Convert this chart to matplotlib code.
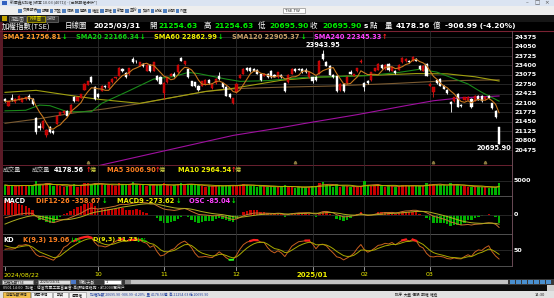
import numpy as np, pandas as pd
import matplotlib; matplotlib.use("Agg")
import matplotlib.pyplot as plt
from matplotlib.patches import Rectangle
from matplotlib import transforms

W, H = 554, 298
CJK = ["Noto Sans CJK TC", "DejaVu Sans"]

# ---- TAIEX daily candles 2024/08/22 .. 2025/03/31 (144 sessions) ----
OPEN = [22240, 22010, 22275, 22125, 22220, 22150, 22230, 22356, 22241, 21583,   # 0
        21318, 21237, 21007, 21260, 21122, 21376, 21699, 21756, 21837, 21779,   # 10
        22298, 22183, 22275, 22552, 22736, 22990, 22667, 22413, 22529, 22702,   # 20
        22610, 22817, 22960, 23048, 23290, 23130, 23100, 23624, 23567, 23394,   # 30
        23451, 23221, 23428, 23221, 23020, 22990, 22437, 22817, 23048, 23105,   # 40
        23163, 23659, 23451, 23278, 22852, 22817, 22702, 22702, 22760, 22900,   # 50
        22620, 22783, 23048, 22783, 22667, 22413, 22090, 22471, 22967, 23105,   # 60
        23313, 23313, 23278, 23244, 23105, 23048, 23105, 23221, 23082, 22990,   # 70
        23082, 22783, 22817, 23105, 23278, 23278, 23278, 23250, 22990, 22990,   # 80
        22990, 23105, 23797, 23509, 23394, 23082, 23048, 22552, 22759, 22783,   # 90
        23163, 23048, 23198, 23509, 22783, 22852, 22898, 23221, 23244, 23428,   # 100
        23278, 23451, 23221, 23221, 23244, 23509, 23544, 23567, 23567, 23624,   # 110
        23394, 23221, 23451, 22702, 22471, 22898, 22932, 22702, 22552, 22125,   # 120
        22160, 22413, 22045, 22206, 22206, 22241, 22183, 22356, 22356, 22241,   # 130
        22356, 22091, 21837, 21254.63]                                          # 140
HIGH = [22290, 22180, 22410, 22260, 22380, 22290, 22320, 22400, 22260, 21620,
        21400, 21500, 21200, 21300, 21180, 21700, 21800, 21860, 21870, 22060,
        22330, 22320, 22430, 22780, 22880, 23048, 22700, 22440, 22720, 22740,
        22830, 22960, 23010, 23360, 23330, 23160, 23330, 23680, 23600, 23530,
        23480, 23440, 23460, 23530, 23060, 23020, 22820, 23000, 23130, 23180,
        23450, 23700, 23560, 23300, 22880, 22840, 22720, 22870, 22920, 22940,
        22780, 22950, 23163, 22800, 22690, 22440, 22280, 22780, 23100, 23300,
        23350, 23340, 23300, 23270, 23120, 23130, 23130, 23240, 23110, 23180,
        23100, 22800, 23100, 23300, 23310, 23300, 23300, 23300, 23180, 23010,
        23020, 23580, 23943.95, 23540, 23420, 23110, 23070, 22780, 22790, 23030,
        23244, 23120, 23330, 23624, 22830, 22900, 23180, 23330, 23470, 23460,
        23440, 23480, 23350, 23240, 23440, 23680, 23650, 23600, 23740, 23650,
        23420, 23410, 23470, 22790, 22660, 22930, 22960, 22730, 22580, 22180,
        22320, 22440, 22070, 22320, 22340, 22260, 22370, 22380, 22380, 22340,
        22380, 22110, 21850, 21254.63]
LOW = [22140, 21990, 22180, 22100, 22200, 22120, 22200, 22220, 22050, 21020,
       21180, 21200, 20940, 21060, 21030, 21360, 21680, 21730, 21650, 21760,
       22140, 22170, 22260, 22540, 22720, 22800, 22200, 22280, 22500, 22620,
       22590, 22800, 22930, 23030, 23180, 22970, 23080, 23480, 23500, 23380,
       23360, 23200, 23190, 23200, 22860, 22750, 22240, 22800, 23030, 23010,
       23140, 23540, 23430, 22980, 22680, 22660, 22530, 22680, 22740, 22760,
       22590, 22760, 22910, 22620, 22330, 22270, 22060, 22450, 22950, 23090,
       23220, 23180, 23200, 23090, 22880, 23030, 22970, 22970, 22990, 22970,
       22970, 22480, 22800, 23090, 23180, 23230, 23140, 23150, 22970, 22783,
       22880, 23090, 23600, 23370, 23060, 22970, 22480, 22530, 22490, 22760,
       23090, 23020, 23180, 23480, 22529, 22760, 22880, 23200, 23230, 23290,
       23260, 23220, 23200, 23110, 23230, 23490, 23520, 23490, 23550, 23550,
       23260, 23200, 23030, 22680, 22298, 22760, 22680, 22570, 22420, 21779,
       22140, 21950, 21980, 22190, 22190, 21930, 22160, 22190, 22140, 22220,
       22260, 21910, 21590, 20695.90]
CLOSE = [22160, 22160, 22205, 22240, 22356, 22265, 22298, 22241, 22068, 21088,
         21226, 21468, 21168, 21088, 21053, 21664, 21779, 21837, 21664, 22045,
         22160, 22298, 22413, 22759, 22852, 22817, 22241, 22298, 22702, 22644,
         22817, 22932, 22990, 23310, 23220, 22990, 23300, 23509, 23544, 23509,
         23394, 23428, 23198, 23509, 22898, 22759, 22783, 22990, 23105, 23048,
         23428, 23567, 23544, 22990, 22702, 22679, 22552, 22852, 22900, 22780,
         22759, 22932, 22932, 22644, 22356, 22298, 22262, 22759, 23082, 23278,
         23244, 23198, 23221, 23105, 22898, 23105, 22990, 22990, 23013, 23163,
         22990, 22506, 23082, 23278, 23198, 23244, 23163, 23190, 23160, 22875,
         22898, 23543, 23624, 23394, 23082, 22990, 22506, 22759, 22506, 23013,
         23105, 23105, 23313, 23544, 22667, 22783, 23163, 23313, 23451, 23313,
         23428, 23244, 23336, 23129, 23428, 23659, 23624, 23509, 23705, 23567,
         23278, 23394, 23048, 22759, 22644, 22783, 22702, 22586, 22437, 22068,
         22298, 21975, 21999, 22298, 22321, 21952, 22356, 22206, 22160, 22321,
         22275, 21929, 21603, 20695.90]
# trading value, 億
VOLUME = [3550, 3250, 3400, 3150, 3300, 3700, 3450,
          3200, 3350, 5100, 4100, 3600, 4300, 3500, 3300,
          3600, 3200, 2900, 3300, 3700, 4000,
          3000, 3500, 4200, 4400, 4100, 4300,
          3600, 4000, 3500, 3700, 3400, 3300,
          4300, 3900, 3700, 3800, 4500, 3700,
          3500, 3400, 3300, 3600, 3800, 3700, 3500,
          4200, 3400, 3300, 3500, 4100, 4200, 3600,
          3900, 3700, 3500, 3400, 3100,
          3000, 3100, 3200, 3300, 3600, 3100, 3400, 3700, 3500,
          3300, 3700, 4000, 3500, 3300, 3100, 3000, 3200, 3100,
          3000, 2900, 2800, 3000, 3100, 3500, 2900, 2700, 2600, 2800, 2700, 2900, 3000,
          3200, 3300, 4300, 4500, 3400, 3500, 3000, 3800, 3000, 3100, 3200, 2900, 2800, 3000, 3100,
          4900, 3700, 3300, 3400, 3500, 3200, 3000, 3100, 3200, 3000, 3300, 3600,
          3400, 3200, 3500, 3100, 3300, 3100, 4400,
          3900, 4000, 3500, 3600, 3400, 3300, 4200, 3400, 3600, 3200, 3100,
          3000, 2900, 2800, 3000, 2900, 2760, 2600, 2700, 2800, 4178.56]
for arr in (OPEN, HIGH, LOW, CLOSE, VOLUME):
    assert len(arr) == 144, len(arr)

# long moving averages, read at a few points along each line
SMA20_IDX = [0, 6, 10, 13, 18, 25, 28, 36, 43, 49, 53, 56, 64, 68, 76, 87, 95, 105, 114, 120, 125, 134, 138, 143]
SMA20_VAL = [21830, 21850, 22030, 22010, 21800, 21800, 22090, 22530, 22930, 23020, 23160, 23120, 22930,
             22850, 22875, 22990, 23010, 23050, 23160, 23270, 23170, 22760, 22470, 22166]
SMA60_IDX = [0, 9, 18, 27, 39, 46, 58, 66, 80, 91, 106, 119, 128, 136, 143]
SMA60_VAL = [22470, 22540, 22380, 22230, 22090, 22240, 22500, 22610, 22890, 23000, 23060, 23120, 23110, 23010, 22863]
SMA120_IDX = [0, 10, 20, 29, 39, 46, 58, 67, 80, 95, 113, 128, 143]
SMA120_VAL = [21400, 21560, 21760, 21900, 22080, 22240, 22500, 22600, 22650, 22690, 22780, 22870, 22905]
SMA240_IDX = [20, 28, 47, 66, 80, 87, 102, 116, 124, 132, 143]
SMA240_VAL = [19740, 19960, 20470, 20980, 21250, 21400, 21700, 22010, 22180, 22280, 22345]

# indicator state on the day before the first candle (estimated from the panels)
EMA12_INIT, EMA26_INIT, SIG_INIT = 21830, 21950, -320
K_INIT, D_INIT = 72, 70

PRICE_TICKS = [24375, 24050, 23725, 23400, 23075, 22750, 22425, 22100, 21775, 21450, 21125, 20800, 20475]
DATE_IDX = [0, 27, 46, 67, 89, 104, 123]
DATE_LBL = ["2024/08/22", "10", "11", "12", "2025/01", "02", "03"]
EVENT_IDX = [24, 84, 124, 139]

o, h, l, c = (np.array(a, float) for a in (OPEN, HIGH, LOW, CLOSE))
vol = np.array(VOLUME, float)
idx = np.arange(len(c))
up = c >= o

sma5 = pd.Series(c).rolling(5, min_periods=1).mean().values
vma5 = pd.Series(vol).rolling(5, min_periods=1).mean().values
vma10 = pd.Series(vol).rolling(10, min_periods=1).mean().values

e12, e26, sg = EMA12_INIT, EMA26_INIT, SIG_INIT
dif, sig = [], []
for v in c:
    e12 += (v - e12) * 2 / 13
    e26 += (v - e26) * 2 / 27
    sg += ((e12 - e26) - sg) * 2 / 10
    dif.append(e12 - e26); sig.append(sg)
dif, sig = np.array(dif), np.array(sig)
osc = dif - sig

hh = pd.Series(h).rolling(9, min_periods=1).max().values
ll = pd.Series(l).rolling(9, min_periods=1).min().values
rsv = (c - ll) / (hh - ll) * 100
k, d = K_INIT, D_INIT
K, D = [], []
for r in rsv:
    k = k * 2 / 3 + r / 3
    d = d * 2 / 3 + k / 3
    K.append(k); D.append(d)
K, D = np.array(K), np.array(D)

# ---------------- figure ----------------
fig = plt.figure(figsize=(W / 100, H / 100), dpi=100)
fig.patch.set_facecolor("black")

bg = fig.add_axes([0, 0, 1, 1]); bg.set_xlim(0, W); bg.set_ylim(H, 0); bg.axis("off")

def box(x0, y0, x1, y1, fc, ec="none", lw=0.5, ax=None):
    (ax or bg).add_patch(Rectangle((x0, y0), x1 - x0, y1 - y0, fc=fc, ec=ec, lw=lw))

# window chrome
box(0, 0, W, 6, "#dbe4f2")
box(0, 6, W, 15, "#eeeeee")
box(0, 15, W, 22, "#161616")
box(0, 279, W, 285, "#383838")
box(0, 285, W, 291, "#0c0c0c")
box(0, 291, W, H, "#e2e2e2")
box(0, 22, 2.5, 279, "#5a1a26")
bg.plot([0, W], [30.5, 30.5], color="#7a2232", lw=0.8)

XL = (-0.58, 146.74)
def panel(y0, y1):
    ax = fig.add_axes([3 / W, 1 - y1 / H, 509 / W, (y1 - y0) / H])
    ax.set_xlim(*XL); ax.set_axis_off()
    return ax

GRID = "#2c2c2c"
ax_p = panel(31, 165)
ax_p.set_ylim(19957, 24593)
for p in PRICE_TICKS:
    ax_p.axhline(p, color=GRID, lw=0.6, zorder=0)
ax_v = panel(165, 196); ax_v.set_ylim(-357, 10710)
ax_v.axhline(5000, color=GRID, lw=0.6, zorder=0)
ax_o = panel(196, 234); ax_o.set_ylim(-240, 240)
ax_m = panel(196, 234); ax_m.set_ylim(-570, 570)
ax_m.axhline(0, color=GRID, lw=0.6, zorder=0)
ax_k = panel(234, 266); ax_k.set_ylim(-3.3, 103.3)
ax_k.axhline(50, color=GRID, lw=0.6, zorder=0)
for ax in (ax_p, ax_v, ax_m, ax_k):
    for i in DATE_IDX[1:]:
        ax.axvline(i, color=GRID, lw=0.6, zorder=0)

# candles
RED, WHT = "#c00000", "#ffffff"
col = np.where(up, RED, WHT)
ax_p.vlines(idx, l, h, colors=np.where(up, "#e01818", WHT), lw=0.6, zorder=3)
ax_p.bar(idx, np.maximum(np.abs(c - o), 14), bottom=np.minimum(o, c), width=0.62,
         color=col, edgecolor=np.where(up, "#e01818", WHT), lw=0.3, zorder=4)
ax_p.plot(SMA240_IDX, SMA240_VAL, color="#a010a0", lw=0.8, zorder=2)
ax_p.plot(SMA120_IDX, SMA120_VAL, color="#7a5a30", lw=0.8, zorder=2)
ax_p.plot(SMA60_IDX, SMA60_VAL, color="#a0a010", lw=0.8, zorder=2)
ax_p.plot(SMA20_IDX, SMA20_VAL, color="#1a8a1a", lw=0.8, zorder=2)
ax_p.plot(idx, sma5, color="#c8781e", lw=0.8, zorder=5)
ev = transforms.blended_transform_factory(ax_p.transData, ax_p.transAxes)
ax_p.plot(EVENT_IDX, [0.02] * len(EVENT_IDX), "^", ms=1.8, color="#8a7a40", transform=ev)
imax = int(np.argmax(h)); imin = int(np.argmin(l))
ax_p.annotate("%.2f" % h[imax], (imax, h[imax]), xytext=(0, 5), textcoords="offset pixels",
              ha="center", va="center", color="white", fontsize=4.8, fontweight="bold")
ax_p.annotate("%.2f" % l[imin], (imin, l[imin]), xytext=(12, -4), textcoords="offset pixels",
              ha="right", va="center", color="white", fontsize=4.8, fontweight="bold")

# volume
ax_v.bar(idx, vol, width=0.7, color=np.where(up, "#c80000", "#00b400"), lw=0)
ax_v.plot(idx, vma5, color="#c87020", lw=0.7)
ax_v.plot(idx, vma10, color="#b0b000", lw=0.7)

# MACD
ax_o.bar(idx, osc, width=0.7, color=np.where(osc >= 0, "#c00000", "#00b000"), lw=0)
ax_m.plot(idx, dif, color="#c87030", lw=0.7)
ax_m.plot(idx, sig, color="#b0b020", lw=0.7)

# KD
ax_k.plot(idx, K, color="#c86020", lw=0.7)
ax_k.plot(idx, D, color="#a8a800", lw=0.7)
ax_k.plot(idx, np.where(K >= 80, K, np.nan), color="#ff2020", lw=1.6)
ax_k.plot(idx, np.where(K <= 20, K, np.nan), color="#20ff20", lw=1.4)

# right-hand scale labels
def rlabel(ax, val, s):
    tr = transforms.blended_transform_factory(ax.transAxes, ax.transData)
    ax.text(1.004, val, s, transform=tr, color="white", fontsize=4.6, fontweight="bold",
            ha="left", va="center", clip_on=False)
for p in PRICE_TICKS:
    rlabel(ax_p, p, str(p))
rlabel(ax_v, 5000, "5000"); rlabel(ax_m, 0, "0"); rlabel(ax_k, 50, "50")

# date axis
dtr = transforms.blended_transform_factory(ax_k.transData, ax_k.transAxes)
for i, s in zip(DATE_IDX, DATE_LBL):
    ax_k.plot([i, i], [-0.02, -0.13], color="#b0b0b0", lw=0.6, transform=dtr, clip_on=False)
    ax_k.text(i - 0.3 if i == 0 else i, -0.27, s, transform=dtr, color="#f0f000",
              fontsize=5 if s == "2025/01" else 4.5, fontweight="bold" if s == "2025/01" else "normal",
              ha="left" if i == 0 else "center", va="center", clip_on=False)

# panel frames
for yy, cc in ((165, "#6a2030"), (196, "#505050"), (234, "#505050"), (266, "#505050")):
    bg.plot([2.5, 512], [yy, yy], color=cc, lw=0.7)
bg.plot([512, 512], [31, 266], color="#6a4a55", lw=0.7)

# ---------------- text overlay ----------------
ov = fig.add_axes([0, 0, 1, 1]); ov.set_xlim(0, W); ov.set_ylim(H, 0); ov.axis("off")
ov.patch.set_alpha(0)

def put(x, y, s, color="white", size=5, bold=False, cjk=False, ha="left"):
    ov.text(x, y, s, color=color, fontsize=size, fontweight="bold" if bold else "normal",
            family=CJK if cjk else "DejaVu Sans", ha=ha, va="center")

# title bar + toolbar
box(2, 1, 7, 5, "#3060c0", ax=ov)
put(10, 3, "新華鑫&加權 [版本 10.03 (4071)] - [台股期權分析*]", "#303030", 2.8, cjk=True)
for xx, s in ((527, "–"), (537, "□"), (547, "×")):
    put(xx, 3, s, "#505050", 4, ha="center")
TOOLBAR = ["交易報表", "報價", "大盤", "個股", "選股", "權證", "期權", "新聞", "盈餘", "資訊", "設定", "說明", "外匯"]
tx = 18
for s in TOOLBAR:
    box(tx, 8.5, tx + 3.5, 12.5, "#5080c0", ax=ov)
    put(tx + 4.5, 10.5, s, "#303030", 2.8, cjk=True)
    tx += 6 + 3.3 * len(s)
box(283, 8, 305, 13, "white", "#909090", ax=ov)
put(285, 10.5, "TSE.TW", "#202020", 2.8)
# tabs
box(2, 16, 7, 21, "#c0a000", ax=ov)
box(9, 16, 26, 21.5, "#333333", "#707070", ax=ov); put(17.5, 18.7, "走勢圖", "#c0c0c0", 3.3, cjk=True, ha="center")
box(27, 16, 44.5, 21.5, "#3e3e10", "#d0c000", ax=ov); put(35.7, 18.7, "K線圖", "#f0e000", 3.3, cjk=True, ha="center")
box(45.5, 16, 58, 21.5, "#333333", "#707070", ax=ov); put(51.7, 18.7, "技術", "#c0c0c0", 3.3, cjk=True, ha="center")

# header line
GRN = "#00ee00"
yH = 26.3
put(2, yH, "加權指數(TSE)", "white", 5.4, cjk=True)
put(65, yH, "日線圖", "white", 5.4, cjk=True)
put(93, yH, "2025/03/31", "white", 5.4, bold=True)
put(149, yH, "開", "white", 5.4, cjk=True); put(158, yH, "21254.63", GRN, 5.4, bold=True)
put(204, yH, "高", "white", 5.4, cjk=True); put(214, yH, "21254.63", GRN, 5.4, bold=True)
put(258, yH, "低", "white", 5.4, cjk=True); put(269, yH, "20695.90", GRN, 5.4, bold=True)
put(310, yH, "收", "white", 5.4, cjk=True); put(322, yH, "20695.90", GRN, 5.4, bold=True)
put(364, yH, "s", "white", 5.2, bold=True); put(370, yH, "點", "white", 5.4, cjk=True)
put(385, yH, "量", "white", 5.4, cjk=True); put(396, yH, "4178.56", "white", 5.4, bold=True)
put(433, yH, "億", "white", 5.4, cjk=True); put(445, yH, "-906.99 (-4.20%)", "white", 5.4, bold=True)

# moving-average legend
yS = 37
for x0, s, cc, ax_, arr, ac in ((3, "SMA5 21756.81", "#ff9a2a", 62, "↓", GRN),
                                (76, "SMA20 22166.34", "#10d010", 140, "↓", GRN),
                                (154, "SMA60 22862.99", "#f0f000", 218, "↓", GRN),
                                (232, "SMA120 22905.37", "#c8a068", 301, "↓", GRN),
                                (314, "SMA240 22345.33", "#ff40ff", 382, "↑", "#ff2020")):
    put(x0, yS, s, cc, 4.8, bold=True)
    put(ax_, yS, arr, ac, 4.8, bold=True)

# volume legend
yV = 169.5
put(3, yV, "成交量", "#c8c8c8", 4.4, cjk=True)
put(32, yV, "成交量", "#c8c8c8", 4.4, cjk=True)
put(54, yV, "4178.56", "white", 4.8, bold=True)
put(86, yV, "↑", "#ff2020", 4.8, bold=True); put(90, yV, "億", "#d0d040", 4.4, cjk=True)
put(107, yV, "MA5 3006.90", "#ff8020", 4.8, bold=True)
put(155, yV, "↑", "#ff2020", 4.8, bold=True); put(159, yV, "億", "#d0d040", 4.4, cjk=True)
put(178, yV, "MA10 2964.54", "#f0f000", 4.8, bold=True)
put(231, yV, "↑", "#ff2020", 4.8, bold=True); put(235, yV, "億", "#d0d040", 4.4, cjk=True)

# MACD legend
yM = 201
put(3, yM, "MACD", "white", 4.8, bold=True)
put(36, yM, "DIF12-26 -358.67", "#ff8020", 4.8, bold=True); put(102, yM, "↓", GRN, 4.8, bold=True)
put(117, yM, "MACD9 -273.62", "#f0f000", 4.8, bold=True); put(176, yM, "↓", GRN, 4.8, bold=True)
put(189, yM, "OSC -85.04", "#ff40ff", 4.8, bold=True); put(231, yM, "↓", GRN, 4.8, bold=True)

# KD legend
yK = 240
put(3, yK, "KD", "white", 4.8, bold=True)
put(23, yK, "K(9,3) 19.06", "#ff8020", 4.8, bold=True); put(70, yK, "↓%", GRN, 4.6, bold=True)
put(93, yK, "D(9,3) 31.73", "#f0f000", 4.6, bold=True); put(136, yK, "↓%", GRN, 4.6, bold=True)

# bottom controls
box(2, 280, 33, 284.2, "#dcdcdc", "#808080", ax=ov); put(4, 282.1, "加權指數TSE", "#202020", 2.6, cjk=True)
put(35.5, 282, "-", "#d0d0d0", 3)
box(38, 280, 70, 284.2, "#dcdcdc", "#808080", ax=ov); put(40, 282.1, "2025/03/31", "#202020", 2.6)
box(71, 280, 76, 284.2, "#4a78c8", ax=ov)
put(79, 282.1, "移動天數", "#d8d8d8", 3, cjk=True)
box(104, 280, 121, 284.2, "white", "#808080", ax=ov); put(106, 282.1, "1", "#202020", 2.6)
box(125, 280.3, 508, 284, "#c4c4c4", ax=ov)
box(125, 280.3, 131, 284, "#8a8a8a", ax=ov)
for xx in range(510, 552, 6):
    box(xx, 280.3, xx + 4.5, 284, "#4a90d0", ax=ov)
put(3, 288, "0501 14:00   加權：停當市單工業富事會-高額補償措施，於2000萬用戶", "#e0e0e0", 2.8, cjk=True)
box(547, 285, W, 291, "#cfcfcf", ax=ov)
box(3, 292, 30, 297.5, "#f3c04a", "#a08030", ax=ov); put(16.5, 294.8, "台灣指數行情", "#202020", 2.6, cjk=True, ha="center")
box(31, 292, 52, 297.5, "#f4f4f4", "#a0a0a0", ax=ov); put(41.5, 294.8, "股票行情", "#202020", 2.6, cjk=True, ha="center")
box(53, 292, 68, 297.5, "#f4f4f4", "#a0a0a0", ax=ov); put(60.5, 294.8, "期貨", "#202020", 2.6, cjk=True, ha="center")
box(69, 292, 86, 297.5, "#f4f4f4", "#a0a0a0", ax=ov); put(77.5, 294.8, "選擇權", "#202020", 2.6, cjk=True, ha="center")
put(90, 294.8, "加權指數 20695.90 -906.99 -4.20%  量 4178.56億  高 21254.63 低 20695.90", "#2040a0", 2.6, cjk=True)
put(395, 294.8, "排序  大盤  個股  期權  權證", "#202020", 2.6, cjk=True)
put(535, 294.8, "14:30", "#202020", 2.6)

fig.savefig("out.png", dpi=100, facecolor="black")
